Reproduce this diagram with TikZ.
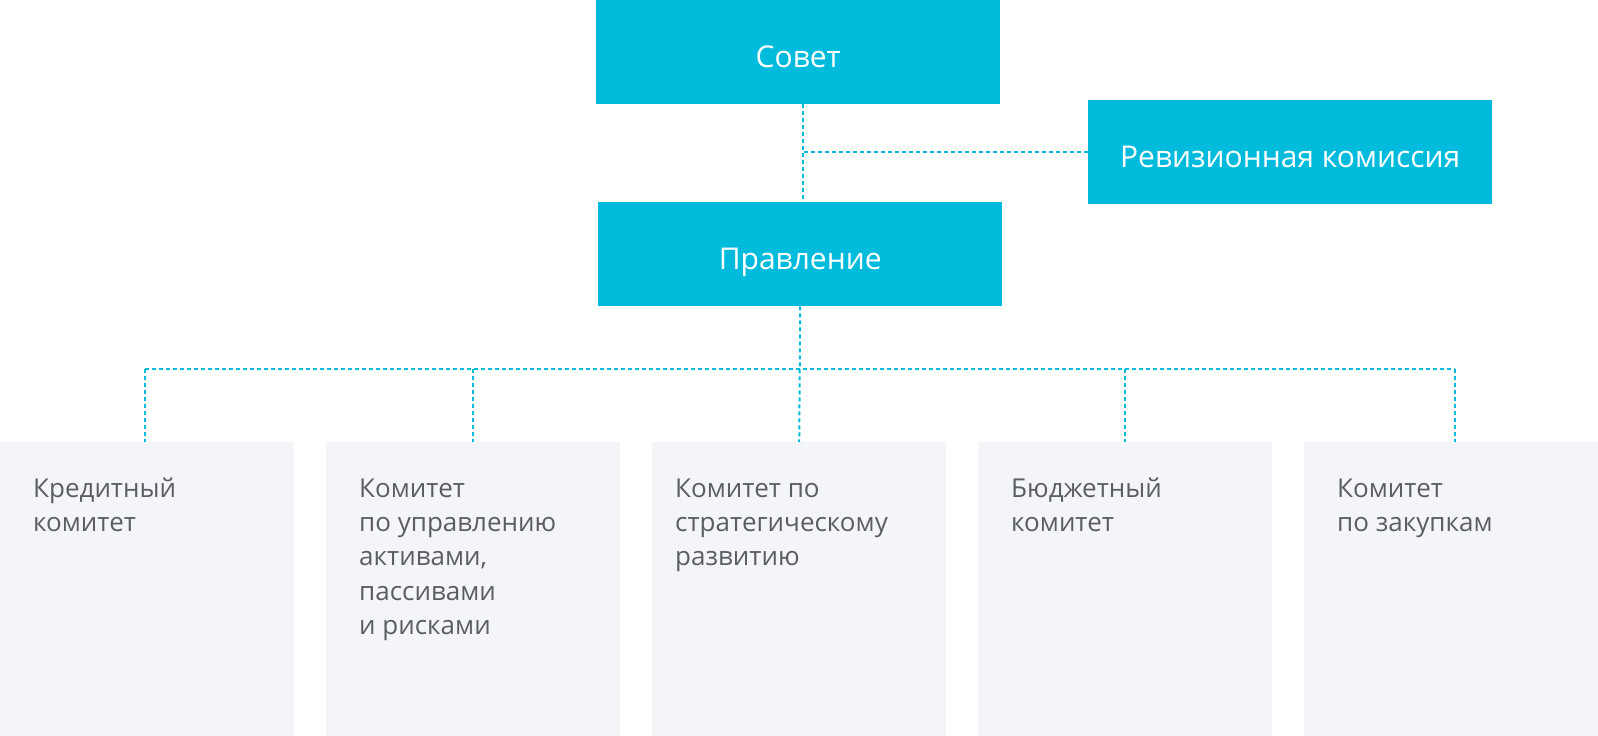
\documentclass[tikz,border=0pt]{standalone}
\usepackage{fontspec}
\setmainfont{Open Sans}
\definecolor{topcyan}{RGB}{0,187,220}
\definecolor{boxgray}{RGB}{244,245,249}
\definecolor{txtgray}{RGB}{90,94,100}
\begin{document}
\begin{tikzpicture}[x=1pt,y=-1pt,
  topbox/.style={fill=topcyan, draw=none, minimum width=404pt, minimum height=104pt, inner sep=0pt,
     text=white, font=\fontsize{30}{36}\selectfont, text height=30pt, text depth=0pt, anchor=north west},
  combox/.style={fill=boxgray, draw=none, minimum width=294pt, minimum height=294pt, inner sep=0pt, anchor=north west},
  comtext/.style={text=txtgray, font=\fontsize{26}{34.3}\selectfont, align=left, anchor=north west, inner sep=0pt},
  dotline/.style={draw=topcyan, line width=2pt, dash pattern=on 4pt off 3pt}]
\useasboundingbox (0,0) rectangle (1598,736);
\node[topbox] (sovet) at (596,0) {Совет};
\node[topbox] (revis) at (1088,100) {Ревизионная комиссия};
\node[topbox] (pravl) at (598,202) {Правление};
\node[combox] (b1) at (0,442) {};
\node[combox] (b2) at (326,442) {};
\node[combox] (b3) at (652,442) {};
\node[combox] (b4) at (978,442) {};
\node[combox] (b5) at (1304,442) {};
\node[comtext] (t1) at ([shift={(33,31)}]b1.north west) {\strut Кредитный\\комитет};
\node[comtext] (t2) at ([shift={(33,31)}]b2.north west) {\strut Комитет\\по управлению\\активами,\\пассивами\\и рисками};
\node[comtext] (t3) at ([shift={(23,31)}]b3.north west) {\strut Комитет по\\стратегическому\\развитию};
\node[comtext] (t4) at ([shift={(33,31)}]b4.north west) {\strut Бюджетный\\комитет};
\node[comtext] (t5) at ([shift={(33,31)}]b5.north west) {\strut Комитет\\по закупкам};
\coordinate (bus) at (800,369);
\coordinate (s1) at ([xshift=5pt]sovet.south);
\coordinate (k1) at ([xshift=-2pt]b1.north);
\coordinate (k5) at ([xshift=4pt]b5.north);
\draw[dotline] (s1) -- (s1 |- pravl.north);
\draw[dotline] (revis.west) -- (revis.west -| s1);
\draw[dotline] (pravl.south) -- (b3.north);
\draw[dotline] (k1 |- bus) -- (k5 |- bus);
\draw[dotline] (k1 |- bus) -- (k1);
\draw[dotline] (b2.north |- bus) -- (b2.north);
\draw[dotline] (b4.north |- bus) -- (b4.north);
\draw[dotline] (k5 |- bus) -- (k5);
\end{tikzpicture}
\end{document}
